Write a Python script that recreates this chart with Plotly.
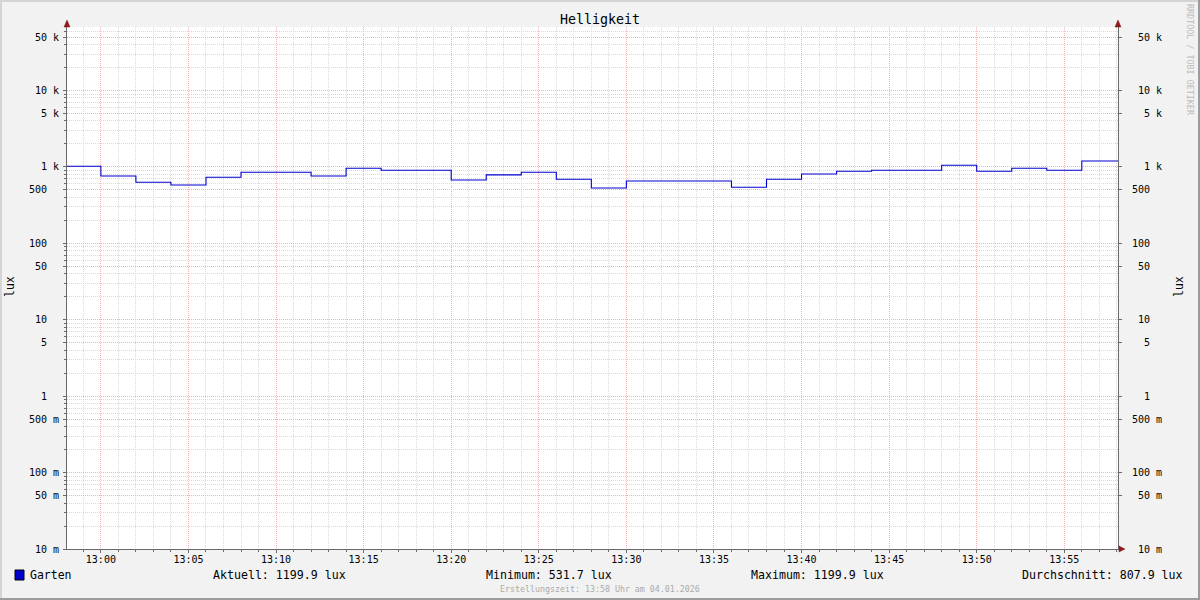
import plotly.graph_objects as go
import pandas as pd

# ---------------- data ----------------
chart_title = "Helligkeit"
series_name = "Garten"
unit_label = "lux"
start_time = "2026-01-04 12:58:00"
step_minutes = 2
lux_values = [1020, 763, 631, 582, 734, 852, 852, 763, 962, 906,
              906, 676, 787, 852, 690, 531.7, 656, 656, 656, 543,
              690, 810, 879, 906, 906, 1052, 879, 962, 906, 1199.9]
view_start = "2026-01-04 12:58:04"
view_end = "2026-01-04 13:58:04"
x_tick_labels = ["13:00", "13:05", "13:10", "13:15", "13:20", "13:25",
                 "13:30", "13:35", "13:40", "13:45", "13:50", "13:55"]
y_tick_vals = [0.01, 0.05, 0.1, 0.5, 1, 5, 10, 50, 100, 500, 1000, 5000, 10000, 50000]
y_tick_text = [" 10 m", " 50 m", "100 m", "500 m", "  1  ", "  5  ", " 10  ", " 50  ",
               "100  ", "500  ", "  1 k", "  5 k", " 10 k", " 50 k"]
stat_aktuell = 1199.9
stat_minimum = 531.7
stat_maximum = 1199.9
stat_durchschnitt = 807.9
footer_text = "Erstellungszeit: 13:58 Uhr am 04.01.2026"
watermark_text = "RRDTOOL / TOBI OETIKER"

# ---------------- layout constants ----------------
W, H = 1200, 600
L, R, T, B = 67, 1118, 27, 549
FONT = "DejaVu Sans Mono"
Y_RANGE = [-2, 4.832]

def px(x):
    return (x - L) / (R - L)

def py(y):
    return (B - y) / (B - T)

nb = lambda s: s.replace(" ", "\u00a0")
tick_text = [nb(t) for t in y_tick_text]

times = list(pd.date_range(start_time, periods=len(lux_values), freq=f"{step_minutes}min"))
x_data = times + [pd.Timestamp(view_end)]
y_data = lux_values + [lux_values[-1]]

x_tick_vals = [f"2026-01-04 {t}:00" for t in x_tick_labels]
x_minor_vals = [str(t) for t in pd.date_range("2026-01-04 12:59:00", "2026-01-04 13:58:00", freq="1min")
                if t.minute % 5 != 0]
y_minor_vals = [m * 10 ** k for k in range(-2, 5) for m in (2, 3, 4, 6, 7, 8, 9)]

MAJOR = "rgb(246,178,178)"
MINOR = "rgb(218,218,218)"
AXIS = "#6a6a6a"
DASH = "1px,1px"

fig = go.Figure()
fig.add_trace(go.Scatter(x=x_data, y=y_data, mode="lines", line=dict(color="#0000D0", width=1.1, shape="hv"),
                         name=series_name, showlegend=False, hoverinfo="skip"))
fig.add_trace(go.Scatter(x=x_data, y=y_data, mode="lines", line=dict(width=0), yaxis="y2",
                         showlegend=False, hoverinfo="skip", opacity=0))

fig.update_layout(
    width=W, height=H,
    margin=dict(l=L, r=W - R, t=T, b=H - B, pad=0),
    paper_bgcolor="#F2F2F2", plot_bgcolor="#FFFFFF",
    font=dict(family=FONT, size=10, color="#000000"),
    showlegend=False,
    xaxis=dict(
        type="date", range=[view_start, view_end],
        tickmode="array", tickvals=x_tick_vals, ticktext=x_tick_labels,
        showgrid=True, gridcolor=MAJOR, griddash=DASH, gridwidth=1,
        ticks="outside", ticklen=3, tickcolor=AXIS, ticklabelstandoff=-2,
        tickfont=dict(family=FONT, size=10),
        showline=True, linecolor=AXIS, linewidth=1, zeroline=False,
        minor=dict(tickmode="array", tickvals=x_minor_vals, showgrid=True, gridcolor=MINOR,
                   griddash=DASH, gridwidth=1, ticks="outside", ticklen=2, tickcolor=AXIS),
    ),
    yaxis=dict(
        type="log", range=Y_RANGE,
        tickmode="array", tickvals=y_tick_vals, ticktext=tick_text,
        showgrid=True, gridcolor=MAJOR, griddash=DASH, gridwidth=1,
        ticks="outside", ticklen=3, tickcolor=AXIS, ticklabelstandoff=2,
        tickfont=dict(family=FONT, size=10, color="#000000"),
        showline=True, linecolor=AXIS, linewidth=1, zeroline=False,
        minor=dict(tickvals=y_minor_vals, showgrid=True, gridcolor=MINOR, griddash=DASH,
                   gridwidth=1, ticks="outside", ticklen=2, tickcolor=AXIS),
    ),
    yaxis2=dict(
        type="log", range=Y_RANGE, overlaying="y", side="right",
        tickmode="array", tickvals=y_tick_vals, ticktext=tick_text,
        showgrid=False, ticks="outside", ticklen=3, tickcolor=AXIS, ticklabelstandoff=8,
        tickfont=dict(family=FONT, size=10, color="#000000"),
        showline=True, linecolor=AXIS, linewidth=1, zeroline=False,
    ),
)

shapes = []
ARROW = "#8B1A1A"
def tri(points):
    p = " L ".join(f"{px(a):.5f},{py(b):.5f}" for a, b in points)
    return dict(type="path", path=f"M {p} Z", xref="paper", yref="paper",
                fillcolor=ARROW, line=dict(color=ARROW, width=0.5), layer="above")
shapes.append(tri([(L, 20), (L - 3, 27), (L + 3, 27)]))
shapes.append(tri([(R, 20), (R - 3, 27), (R + 3, 27)]))
shapes.append(tri([(R + 7, B), (R + 1, B - 3), (R + 1, B + 3)]))

# legend colour box
shapes.append(dict(type="rect", xref="paper", yref="paper",
                   x0=px(15), x1=px(24), y0=py(580), y1=py(570),
                   fillcolor="#0000CC", line=dict(color="#000000", width=1)))

# frame border
def rect(x0, y0, x1, y1, color):
    return dict(type="rect", xref="paper", yref="paper", x0=px(x0), x1=px(x1),
                y0=py(y1), y1=py(y0), fillcolor=color, line=dict(width=0), layer="above")
shapes.append(rect(0, 0, W, 2, "#D4D4D4"))
shapes.append(rect(0, 0, 2, H, "#D4D4D4"))
shapes.append(rect(0, H - 2, W, H, "#9C9C9C"))
shapes.append(rect(W - 2, 0, W, H, "#9C9C9C"))
fig.update_layout(shapes=shapes)

ann = []
def text(x, y, s, size, xanchor="center", color="#000000", angle=0):
    ann.append(dict(x=px(x), y=py(y), xref="paper", yref="paper", text=s, showarrow=False,
                    xanchor=xanchor, yanchor="middle", textangle=angle,
                    font=dict(family=FONT, size=size, color=color)))

text(600, 19, chart_title, 13.3)
text(10, 287, unit_label, 11.5, angle=-90)
text(1179, 287, unit_label, 11.5, angle=-90)
text(1190, 60, watermark_text, 8.4, color="#BBBBBB", angle=90)
text(28, 575, series_name, 11.5, xanchor="left")
text(211, 575, f"Aktuell: {stat_aktuell:.1f} {unit_label}", 11.6, xanchor="left")
text(484, 575, f"Minimum: {stat_minimum:.1f} {unit_label}", 11.6, xanchor="left")
text(749, 575, f"Maximum: {stat_maximum:.1f} {unit_label}", 11.6, xanchor="left")
text(1185, 575, f"Durchschnitt: {stat_durchschnitt:.1f} {unit_label}", 11.6, xanchor="right")
text(600, 589, footer_text, 8.3, color="#AAAAAA")
fig.update_layout(annotations=ann)

fig.write_html("out.html", config={"displayModeBar": False},
               post_script="document.body.style.margin='0';document.body.style.overflow='hidden';")
